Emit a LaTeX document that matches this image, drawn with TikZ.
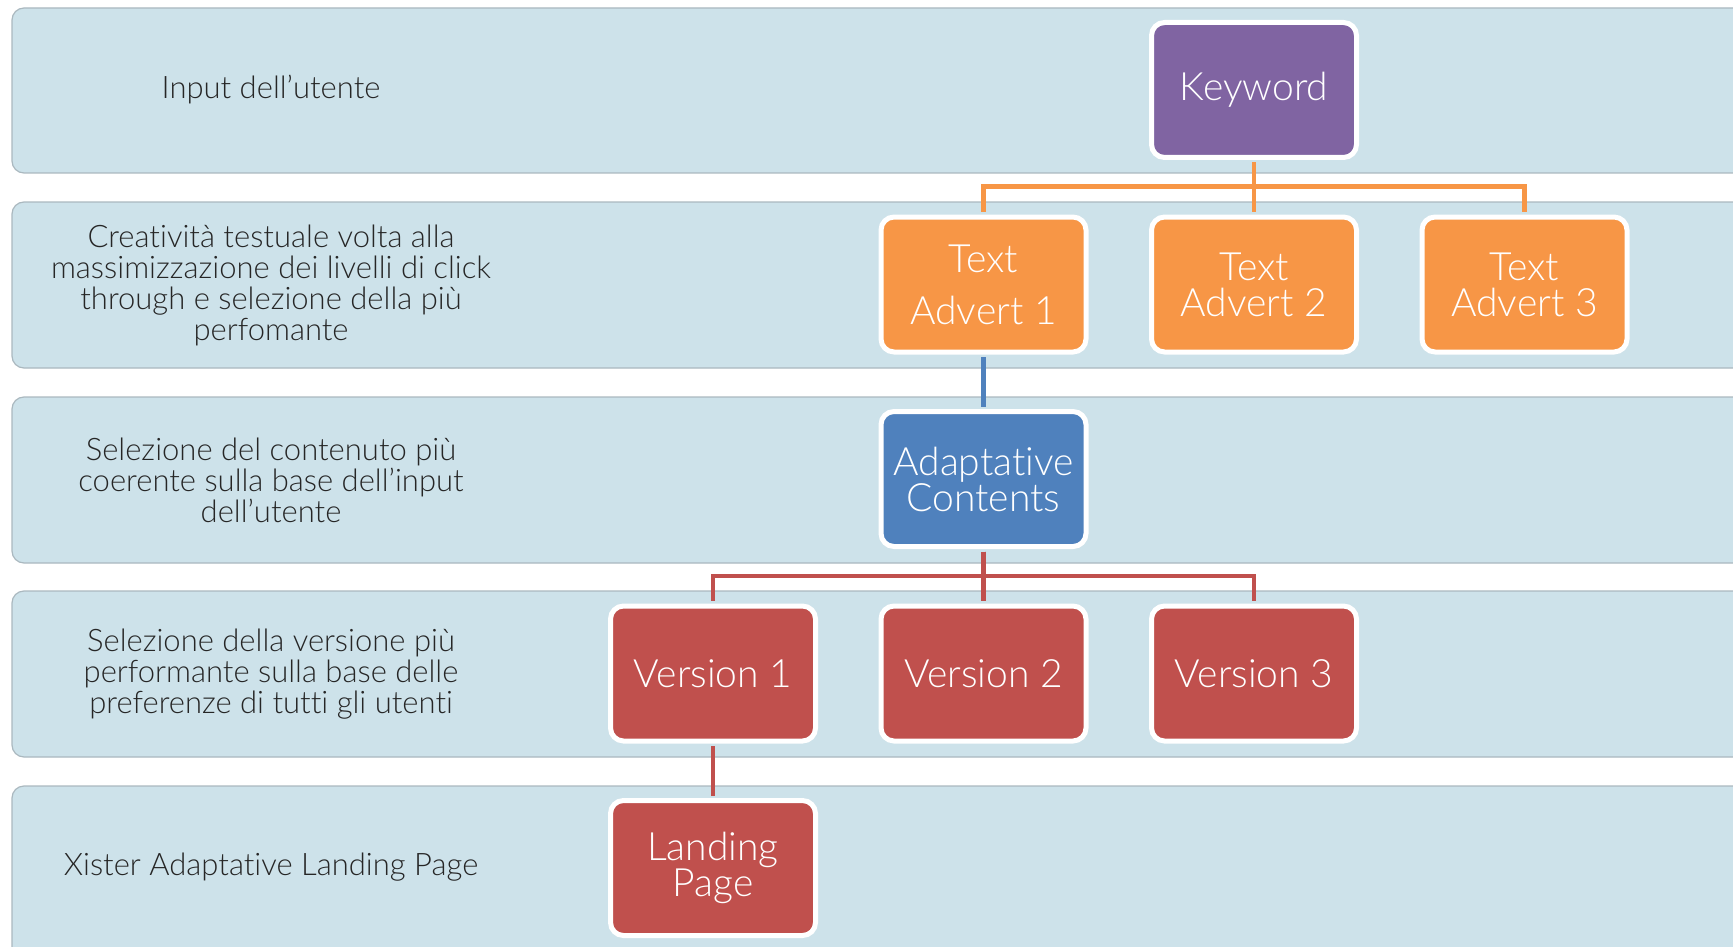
\documentclass[tikz,border=0pt]{standalone}
\usepackage{fontspec}
\setmainfont{Lato Light}[Ligatures=NoCommon]
\usetikzlibrary{positioning}
\definecolor{bandblue}{HTML}{CDE2EA}
\definecolor{bandgray}{HTML}{AAB8BF}
\definecolor{kwpurple}{HTML}{8064A2}
\definecolor{advorange}{HTML}{F79646}
\definecolor{acblue}{HTML}{4F81BD}
\definecolor{verred}{HTML}{C0504D}

\begin{document}
\begin{tikzpicture}[x=1pt, y=-1pt, node distance=194.5pt and 270.5pt, on grid,
    band/.style={fill=bandblue, draw=bandgray, line width=1.2pt, rounded corners=12pt},
    lbl/.style={align=center, text=black!85, font=\fontsize{31}{31}\selectfont},
    box/.style={rounded corners=13pt, draw=white, line width=5pt, minimum width=205pt,
        minimum height=135pt, inner sep=0pt, text=white, align=center,
        font=\fontsize{39}{36}\selectfont},
    kw/.style={box, fill=kwpurple},
    adv/.style={box, fill=advorange},
    ac/.style={box, fill=acblue},
    ver/.style={box, fill=verred},
    link/.style={line width=4.5pt, shorten <=2.5pt, shorten >=2.5pt}]

        \useasboundingbox (0,0) rectangle (1733,947);
        \foreach \top/\bot in {8/173, 202/368, 397/563, 591/757, 786/970}
            \draw[band] (12,\top) rectangle (1780,\bot);

        \node[lbl] (input) at (271,90) {Input dell’utente};
        \node[lbl] (creative) at (271,285) {Creatività testuale volta alla\\massimizzazione dei livelli di click\\through e selezione della più\\perfomante};
        \node[lbl] (selcont) at (271,480) {Selezione del contenuto più\\coerente sulla base dell’input\\dell’utente};
        \node[lbl] (selver) at (271,674) {Selezione della versione più\\performante sulla base delle\\preferenze di tutti gli utenti};
        \node[lbl] (xister) at (271,867) {Xister Adaptative Landing Page};

        \node[kw] (keyword) at (1254,90) {Keyword};
        \node[adv, below=of keyword] (advert2) {Text\\Advert 2};
        \node[adv, left=of advert2] (advert1) {Text\\[16pt]Advert 1};
        \node[adv, right=of advert2] (advert3) {Text\\Advert 3};
        \node[ac, below=of advert1] (adaptive) {Adaptative\\Contents};
        \node[ver, below=of adaptive] (version2) {Version 2};
        \node[ver, left=of version2] (version1) {Version 1};
        \node[ver, right=of version2] (version3) {Version 3};
        \node[ver, below=of version1] (landing) {Landing\\Page};

        \draw[link, advorange] (keyword.south) -- ++(0,26.5) -| (advert1.north);
        \draw[link, advorange] (keyword.south) -- ++(0,26.5) -| (advert3.north);
        \draw[link, advorange] (keyword.south) -- (advert2.north);
        \draw[link, acblue] (advert1.south) -- (adaptive.north);
        \draw[link, verred] (adaptive.south) -- ++(0,27) -| (version1.north);
        \draw[link, verred] (adaptive.south) -- ++(0,27) -| (version3.north);
        \draw[link, verred] (adaptive.south) -- (version2.north);
        \draw[link, verred] (version1.south) -- (landing.north);

        \end{tikzpicture}
\end{document}
